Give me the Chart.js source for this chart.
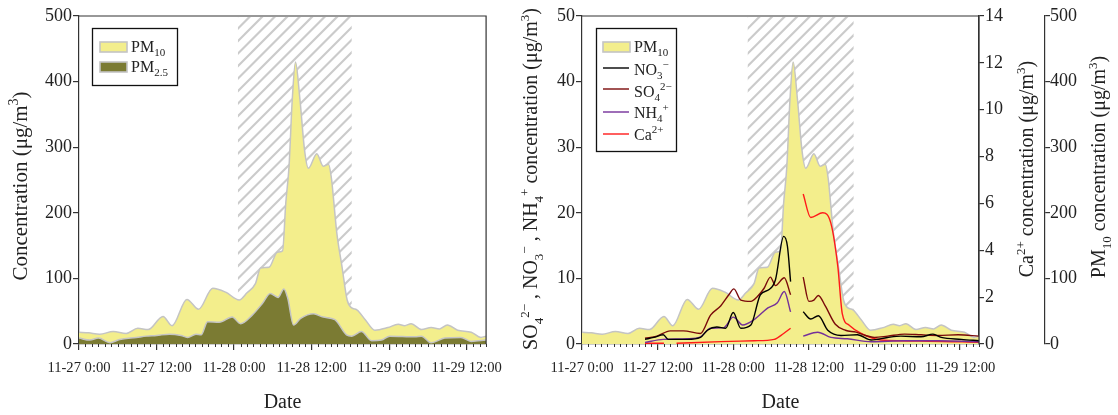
<!DOCTYPE html>
<html><head><meta charset="utf-8">
<script src="https://cdn.jsdelivr.net/npm/chart.js@4.4.0/dist/chart.umd.min.js"></script>
<style>
html,body{margin:0;padding:0;background:#fff;width:1118px;height:415px;overflow:hidden}
#c1{position:absolute;left:0;top:0}
#c2{position:absolute;left:500px;top:0}
</style></head><body>
<canvas id="c1" width="512" height="415"></canvas>
<canvas id="c2" width="618" height="415"></canvas>
<script>
const FONT = "'Liberation Serif', 'Times New Roman', serif";

// time axis in hours since 11-27 0:00
const tickHours = [0, 12, 24, 36, 48, 60];
const tickLabels = ['11-27 0:00', '11-27 12:00', '11-28 0:00', '11-28 12:00', '11-29 0:00', '11-29 12:00'];

// shaded (hatched) period, hours
const hatchLeft = [24.6, 42.2];
const hatchRight = [26.3, 43.1];

// PM10 (μg/m3)
const pm10Hours  = [0, 1.5, 3.2, 5.3, 7.3, 9.1, 10.7, 13, 14.4, 16.7, 18.5, 20.7, 22.7, 24.8, 26, 27.3, 28.1, 29.4, 30.7, 31.5, 32, 32.5, 33, 33.5, 34.2, 34.9, 35.5, 36.8, 37.8, 38.6, 39.1, 39.4, 39.9, 40.7, 41.5, 42.2, 43, 44.3, 45.8, 47.8, 49.4, 50.4, 51.4, 53, 54.5, 55.8, 57, 58.6, 60.7, 62.2, 63];
const pm10Values = [18, 17, 15, 19, 16, 24, 22, 42, 28, 68, 53, 85, 79, 67, 78, 92, 116, 117, 140, 142, 215, 270, 372, 430, 372, 296, 268, 290, 271, 274, 250, 220, 169, 118, 67, 55, 52, 37, 21, 25, 30, 28, 31, 22, 25, 23, 29, 21, 18, 10, 12];

// PM2.5 (μg/m3)
const pm25Hours  = [0, 1.7, 3, 4.8, 6.3, 8.9, 10.4, 12, 14, 15.8, 16.8, 18.1, 18.9, 19.9, 21.7, 23.7, 25, 26.8, 28.4, 29.6, 30.8, 31.7, 32.3, 33.2, 34.3, 36.3, 37.8, 39.6, 41.4, 42.2, 43.7, 45.3, 46.8, 48.1, 52, 53, 54.5, 56.6, 59.1, 60.7, 63];
const pm25Values = [9, 6, 9, 2, 7, 10, 12, 13, 15, 13, 10, 15, 14, 34, 33, 41, 31, 44, 62, 77, 71, 84, 70, 29, 39, 46, 41, 37, 14, 12, 19, 5, 6, 12, 11, 12, 2, 9, 10, 4, 6];

// NO3- (μg/m3)
const no3Hours  = [10, 11.4, 12.9, 13.7, 16.7, 18.8, 19.9, 21.4, 22.8, 24, 25.2, 26.8, 28.3, 29.7, 30.7, 32, 32.6, 33.1, 34, 35.1, 36.3, 37.5, 39, 41.1, 43.7, 45.9, 48.5, 50.6, 53.8, 55.7, 57, 60.2, 63];
const no3Values = [0.7, 1.0, 1.4, 0.7, 0.7, 1.0, 2.1, 2.6, 2.4, 4.8, 2.4, 2.9, 7.5, 8.3, 9.8, 16.4, 14.9, 9.5, null, 4.9, 3.8, 4.3, 2.1, 1.3, 1.4, 0.6, 1.0, 1.2, 1.1, 1.5, 1.0, 0.7, 0.5];

// SO4 2- (μg/m3)
const so4Hours  = [10, 11.9, 14, 16.1, 18.8, 20.4, 22, 23.3, 24.1, 25.2, 26.8, 27.8, 28.9, 29.9, 30.7, 32.1, 33.1, 34, 35.1, 36, 36.8, 37.5, 38.6, 40.2, 41.8, 43.5, 45, 46.4, 48.5, 51.2, 53.8, 56.5, 59.7, 63];
const so4Values = [0.87, 1.2, 2.0, 2.0, 1.6, 4.4, 5.8, 7.5, 8.4, 6.7, 6.5, 7.2, 8.5, 10.2, 8.9, 10.1, 7.5, null, 10.2, 6.5, 6.7, 7.4, 5.8, 3.0, 2.1, 1.8, 1.3, 1.0, 1.2, 1.5, 1.4, 1.3, 1.4, 1.2];

// NH4+ (μg/m3)
const nh4Hours  = [10, 12.9, 16.7, 18.8, 20.4, 22.5, 24, 25.5, 27.3, 29.5, 31, 32.1, 33.1, 34, 35.1, 37.4, 39.5, 42.1, 45.9, 51.2, 56.5, 63];
const nh4Values = [0.25, 0.7, 0.8, 1.1, 2.4, 2.5, 4.1, 2.9, 3.7, 5.5, 6.3, 8.0, 4.9, null, 1.2, 1.8, 1.0, 0.8, 0.35, 0.5, 0.5, 0.35];

// Ca2+ (μg/m3, right axis)
const caHours  = [10, 13, 14, 15, 22, 27.3, 30.5, 32, 33.1, 34, 35.1, 36.3, 38.2, 39.5, 40.6, 41.3, 42.4, 44.3, 47.4, 55, 63];
const caValues = [0.03, 0.03, null, 0.03, 0.1, 0.14, 0.2, 0.45, 0.67, null, 6.4, 5.4, 5.6, 5.15, 3.3, 1.3, 0.8, 0.45, 0.17, 0.12, 0.07];

const pts = (h, v) => h.map((x, i) => ({x, y: v[i]}));

const C_PM10 = '#f3ee8c', C_PM10_EDGE = '#c4c4c4', C_PM25 = '#7b7b33';
const C_NO3 = '#000000', C_SO4 = '#7a0a0a', C_NH4 = '#74309a', C_CA = '#ff1a1a';
const AX = '#333333', TXT = '#222222';

function drawRich(ctx, segs, x, y, size, rot) {
  const small = Math.round(size * 0.66);
  let w = 0;
  const items = segs.map(([t, k]) => {
    const fs = k ? small : size;
    ctx.font = fs + 'px ' + FONT;
    const mw = ctx.measureText(t).width;
    w += mw;
    return {t, k, fs, w: mw};
  });
  ctx.save();
  ctx.translate(x, y);
  if (rot) ctx.rotate(rot);
  let cx = rot ? -w / 2 : 0;
  ctx.textBaseline = 'alphabetic';
  ctx.textAlign = 'left';
  ctx.fillStyle = TXT;
  for (const it of items) {
    ctx.font = it.fs + 'px ' + FONT;
    const dy = it.k === 'sub' ? size * 0.28 : it.k === 'sup' ? -size * 0.42 : 0;
    ctx.fillText(it.t, cx, dy);
    cx += it.w;
  }
  ctx.restore();
}

function hatchPlugin(range) {
  return {
    id: 'hatch',
    beforeDatasetsDraw(chart) {
      const {ctx, chartArea: a, scales: {x}} = chart;
      const x1 = x.getPixelForValue(range[0]), x2 = x.getPixelForValue(range[1]);
      ctx.save();
      ctx.beginPath();
      ctx.rect(x1, a.top + 1, x2 - x1, a.bottom - a.top - 1);
      ctx.clip();
      ctx.strokeStyle = '#cbcbcb';
      ctx.lineWidth = 2.2;
      const H = a.bottom - a.top;
      for (let s = x1 - H; s < x2 + 2; s += 12.5) {
        ctx.beginPath();
        ctx.moveTo(s, a.bottom);
        ctx.lineTo(s + H, a.top);
        ctx.stroke();
      }
      ctx.restore();
    }
  };
}

const framePlugin = {
  id: 'frame',
  afterDraw(chart) {
    const {ctx, chartArea: a, scales: {x}} = chart;
    ctx.save();
    ctx.strokeStyle = AX;
    ctx.lineWidth = 1.2;
    ctx.beginPath();
    ctx.moveTo(a.left, a.top); ctx.lineTo(a.right, a.top); ctx.lineTo(a.right, a.bottom);
    ctx.stroke();
    ctx.lineWidth = 1;
    for (let h = 0; h <= 63; h++) {
      if (tickHours.includes(h)) continue;
      const px = Math.round(x.getPixelForValue(h)) + 0.5;
      ctx.beginPath(); ctx.moveTo(px, a.bottom); ctx.lineTo(px, a.bottom + 3); ctx.stroke();
    }
    ctx.restore();
  }
};

function legendPlugin(box, items) {
  return {
    id: 'richLegend',
    afterDraw(chart) {
      const ctx = chart.ctx;
      ctx.save();
      ctx.fillStyle = '#fff';
      ctx.fillRect(box[0], box[1], box[2], box[3]);
      ctx.strokeStyle = '#111';
      ctx.lineWidth = 1.3;
      ctx.strokeRect(box[0] + 0.5, box[1] + 0.5, box[2], box[3]);
      for (const it of items) {
        if (it.type === 'box') {
          ctx.fillStyle = it.fill;
          ctx.fillRect(it.x, it.y - 5, 27, 10);
          ctx.strokeStyle = '#c4c4c4';
          ctx.lineWidth = 1.6;
          ctx.strokeRect(it.x, it.y - 5, 27, 10);
        } else {
          ctx.strokeStyle = it.color;
          ctx.lineWidth = 1.4;
          ctx.beginPath(); ctx.moveTo(it.x, it.y); ctx.lineTo(it.x + 26, it.y); ctx.stroke();
        }
        drawRich(ctx, it.text, it.x + 31, it.ty, 16, 0);
      }
      ctx.restore();
    }
  };
}

function titlesPlugin(list) {
  return {
    id: 'titles',
    afterDraw(chart) {
      for (const t of list) drawRich(chart.ctx, t.segs, t.x, t.y, t.size, -Math.PI / 2);
    }
  };
}

function xScale() {
  return {
    type: 'linear', min: 0, max: 63,
    afterFit(s) { s.height = 71; },
    grid: {drawOnChartArea: false, drawTicks: true, tickLength: 6, color: AX, lineWidth: 1.2},
    border: {color: AX, width: 1.2},
    ticks: {
      stepSize: 12, includeBounds: false, autoSkip: false, maxRotation: 0, minRotation: 0,
      padding: 9, color: TXT, font: {family: FONT, size: 14.6},
      callback: v => { const i = tickHours.indexOf(v); return i >= 0 ? tickLabels[i] : ''; }
    },
    title: {display: true, text: 'Date', color: TXT, font: {family: FONT, size: 20}, padding: {top: 0, bottom: 0}}
  };
}

function yScale(opts) {
  return Object.assign({
    grid: {drawOnChartArea: false, drawTicks: true, tickLength: 6, color: AX, lineWidth: 1.2},
    border: {color: AX, width: 1.2},
  }, opts);
}

const area = (label, h, v, bg, order, yAxisID) => ({
  label, data: pts(h, v), fill: 'origin', backgroundColor: bg, borderColor: C_PM10_EDGE,
  borderWidth: 1.5, pointRadius: 0, cubicInterpolationMode: 'monotone', order, yAxisID
});
const line = (label, h, v, color, yAxisID) => ({
  label, data: pts(h, v), fill: false, borderColor: color, borderWidth: 1.4,
  pointRadius: 0, cubicInterpolationMode: 'monotone', spanGaps: false, order: 0, yAxisID
});

// LEFT CHART
new Chart(document.getElementById('c1'), {
  type: 'line',
  data: {datasets: [
    area('PM10', pm10Hours, pm10Values, C_PM10, 1, 'y'),
    area('PM2.5', pm25Hours, pm25Values, C_PM25, 0, 'y')
  ]},
  options: {
    responsive: false, animation: false, parsing: true,
    layout: {padding: {top: 16, right: 23, left: 0, bottom: 0}},
    plugins: {legend: {display: false}, tooltip: {enabled: false}},
    scales: {
      x: xScale(),
      y: yScale({min: 0, max: 500, afterFit(s) { s.width = 79; },
        ticks: {stepSize: 100, padding: 1, color: TXT, font: {family: FONT, size: 18}}})
    }
  },
  plugins: [hatchPlugin(hatchLeft), framePlugin,
    legendPlugin([92, 28, 85, 57], [
      {type: 'box', fill: C_PM10, x: 100, y: 47, ty: 52, text: [['PM'], ['10', 'sub']]},
      {type: 'box', fill: C_PM25, x: 100, y: 67, ty: 72, text: [['PM'], ['2.5', 'sub']]}
    ]),
    titlesPlugin([{segs: [['Concentration (μg/m'], ['3', 'sup'], [')']], x: 27, y: 186, size: 21}])
  ]
});

// RIGHT CHART
new Chart(document.getElementById('c2'), {
  type: 'line',
  data: {datasets: [
    area('PM10', pm10Hours, pm10Values, C_PM10, 5, 'yPM'),
    line('NO3-', no3Hours, no3Values, C_NO3, 'y'),
    line('SO4 2-', so4Hours, so4Values, C_SO4, 'y'),
    line('NH4+', nh4Hours, nh4Values, C_NH4, 'y'),
    line('Ca2+', caHours, caValues, C_CA, 'yCa')
  ]},
  options: {
    responsive: false, animation: false,
    layout: {padding: {top: 16, right: 0, left: 0, bottom: 0}},
    plugins: {legend: {display: false}, tooltip: {enabled: false}},
    scales: {
      x: xScale(),
      y: yScale({position: 'left', min: 0, max: 50, afterFit(s) { s.width = 82; },
        ticks: {stepSize: 10, padding: 1, color: TXT, font: {family: FONT, size: 18}}}),
      yCa: yScale({position: 'right', weight: 0, min: 0, max: 14, afterFit(s) { s.width = 66; },
        grid: {drawOnChartArea: false, drawTicks: true, tickLength: 5, color: AX, lineWidth: 1.2},
        ticks: {stepSize: 2, padding: 1, color: TXT, font: {family: FONT, size: 18}}}),
      yPM: yScale({position: 'right', weight: 1, min: 0, max: 500, afterFit(s) { s.width = 73; },
        grid: {drawOnChartArea: false, drawTicks: true, tickLength: 5, color: AX, lineWidth: 1.2},
        ticks: {stepSize: 100, padding: 0, color: TXT, font: {family: FONT, size: 18}}})
    }
  },
  plugins: [hatchPlugin(hatchRight), framePlugin,
    legendPlugin([96, 28, 80, 123], [
      {type: 'box', fill: C_PM10, x: 103, y: 47, ty: 52, text: [['PM'], ['10', 'sub']]},
      {type: 'line', color: C_NO3, x: 103, y: 68, ty: 75, text: [['NO'], ['3', 'sub'], ['−', 'sup']]},
      {type: 'line', color: C_SO4, x: 103, y: 89, ty: 97, text: [['SO'], ['4', 'sub'], ['2−', 'sup']]},
      {type: 'line', color: C_NH4, x: 103, y: 112, ty: 118, text: [['NH'], ['4', 'sub'], ['+', 'sup']]},
      {type: 'line', color: C_CA, x: 103, y: 134, ty: 140, text: [['Ca'], ['2+', 'sup']]}
    ]),
    titlesPlugin([
      {segs: [['SO'], ['4', 'sub'], ['2−', 'sup'], [' , NO'], ['3', 'sub'], ['−', 'sup'], [' , NH'], ['4', 'sub'], ['+', 'sup'], [' concentration (μg/m'], ['3', 'sup'], [')']], x: 37, y: 179, size: 20},
      {segs: [['Ca'], ['2+', 'sup'], [' concentration (μg/m'], ['3', 'sup'], [')']], x: 533, y: 169, size: 20},
      {segs: [['PM'], ['10', 'sub'], [' concentration (μg/m'], ['3', 'sup'], [')']], x: 605, y: 167, size: 20}
    ])
  ]
});
</script>
</body></html>
